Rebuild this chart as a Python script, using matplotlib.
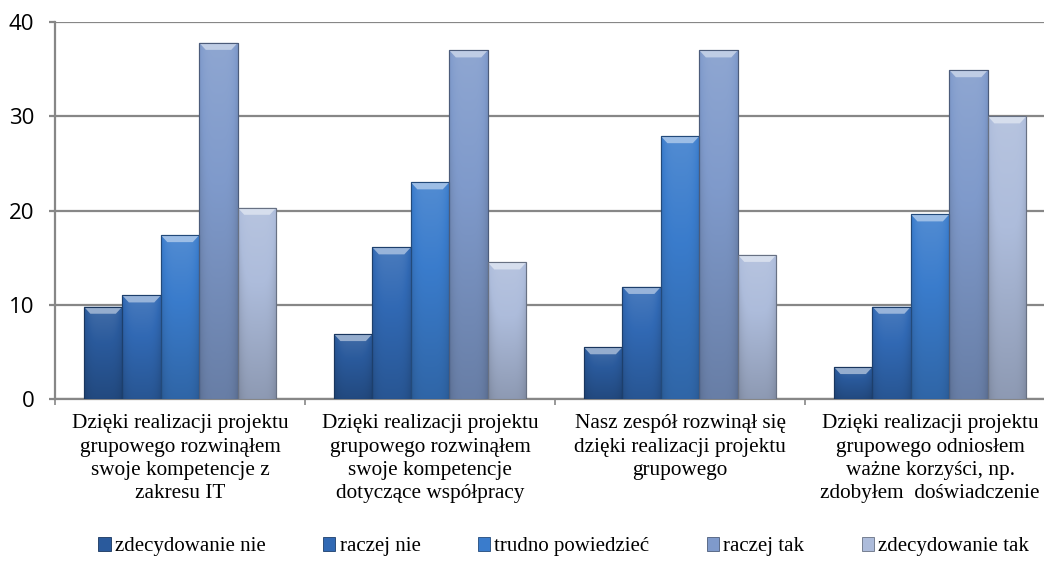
import numpy as np
import matplotlib
matplotlib.use("Agg")
import matplotlib.pyplot as plt
from matplotlib.colors import to_rgb
from matplotlib.patches import Polygon, Patch, Rectangle

categories = [
    "Dzięki realizacji projektu\ngrupowego rozwinąłem\nswoje kompetencje z\nzakresu IT",
    "Dzięki realizacji projektu\ngrupowego rozwinąłem\nswoje kompetencje\ndotyczące współpracy",
    "Nasz zespół rozwinął się\ndzięki realizacji projektu\ngrupowego",
    "Dzięki realizacji projektu\ngrupowego odniosłem\nważne korzyści, np.\nzdobyłem  doświadczenie",
]
series_names = ["zdecydowanie nie", "raczej nie", "trudno powiedzieć", "raczej tak", "zdecydowanie tak"]
zdecydowanie_nie = [9.8, 6.9, 5.5, 3.4]
raczej_nie = [11.0, 16.1, 11.9, 9.8]
trudno_powiedziec = [17.4, 23.0, 27.9, 19.6]
raczej_tak = [37.8, 37.0, 37.0, 34.9]
zdecydowanie_tak = [20.3, 14.5, 15.3, 30.0]
values = [zdecydowanie_nie, raczej_nie, trudno_powiedziec, raczej_tak, zdecydowanie_tak]
colors = ["#2a5a9c", "#3169b4", "#3a7ccc", "#7f9acb", "#adbcdb"]

fig = plt.figure(figsize=(10.44, 5.66), dpi=100)
ax = fig.add_axes([0.0527, 0.295, 0.958, 0.666])

x = np.arange(len(categories))
n = len(values)
w = 1 / (n + 1.5)

def shade(c, f):
    r = np.array(to_rgb(c))
    if f >= 1:
        return r + (1 - r) * (f - 1)
    return r * f

for i, (vals, col) in enumerate(zip(values, colors)):
    pos = x + (i - (n - 1) / 2) * w
    bars = ax.bar(pos, vals, w, color=col, edgecolor=shade(col, 0.6), linewidth=0.8, zorder=3)
    for b in bars:
        bx, by, bw, bh = b.get_x(), b.get_y(), b.get_width(), b.get_height()
        # vertical + horizontal shading to mimic the bevel look
        vy = np.linspace(1.12, 0.82, 60)[:, None]
        hx = 1 - 0.12 * np.abs(np.linspace(-1, 1, 30))[None, :] ** 4
        f = (vy * hx)[..., None]
        base = np.array(to_rgb(col))
        img = np.where(f >= 1, base + (1 - base) * (f - 1), base * f)
        im = ax.imshow(np.clip(img, 0, 1), extent=(bx, bx + bw, by, by + bh),
                       aspect="auto", origin="upper", zorder=3.5, interpolation="bilinear")
        im.set_clip_path(b)
        dx, dy = 0.026, 0.75
        top = by + bh
        ax.add_patch(Polygon([(bx, top), (bx + bw, top), (bx + bw - dx, top - dy), (bx + dx, top - dy)],
                             closed=True, facecolor=shade(col, 1.5), edgecolor="none", zorder=4))
        ax.add_patch(Rectangle((bx, by), bw, bh, fill=False, edgecolor=shade(col, 0.6),
                               linewidth=0.8, zorder=4.5))

ax.set_xlim(-0.5, 3.5)
ax.set_ylim(0, 40)
ax.set_yticks([0, 10, 20, 30, 40])
ax.yaxis.grid(True, color="#878787", linewidth=1.6, zorder=0)
ax.set_axisbelow(True)
for s in ["top", "right"]:
    ax.spines[s].set_visible(False)
for s in ["left", "bottom"]:
    ax.spines[s].set_color("#878787")
    ax.spines[s].set_linewidth(1.6)

ax.set_xticks(x)
ax.set_xticklabels(categories, family="Liberation Serif", fontsize=15.3, linespacing=1.3)
ax.set_xticks(np.arange(-0.5, 3.6, 1), minor=True)
ax.tick_params(axis="x", which="major", length=0, pad=11)
ax.tick_params(axis="x", which="minor", length=4, color="#878787", width=1.2)
ax.tick_params(axis="y", length=4, color="#878787", width=1.6, pad=11, labelsize=16)
for t in ax.get_yticklabels():
    t.set_family("Open Sans")

handles = [Patch(facecolor=c, edgecolor=shade(c, 0.6), linewidth=0.6) for c in colors]
fig.legend(handles, series_names, loc="center", bbox_to_anchor=(0.54, 0.034), ncol=5,
           frameon=False, prop={"family": "Liberation Serif", "size": 15},
           handlelength=0.6, handleheight=0.6, handletextpad=0.2, columnspacing=2.75)

fig.savefig("out.png", dpi=100)
